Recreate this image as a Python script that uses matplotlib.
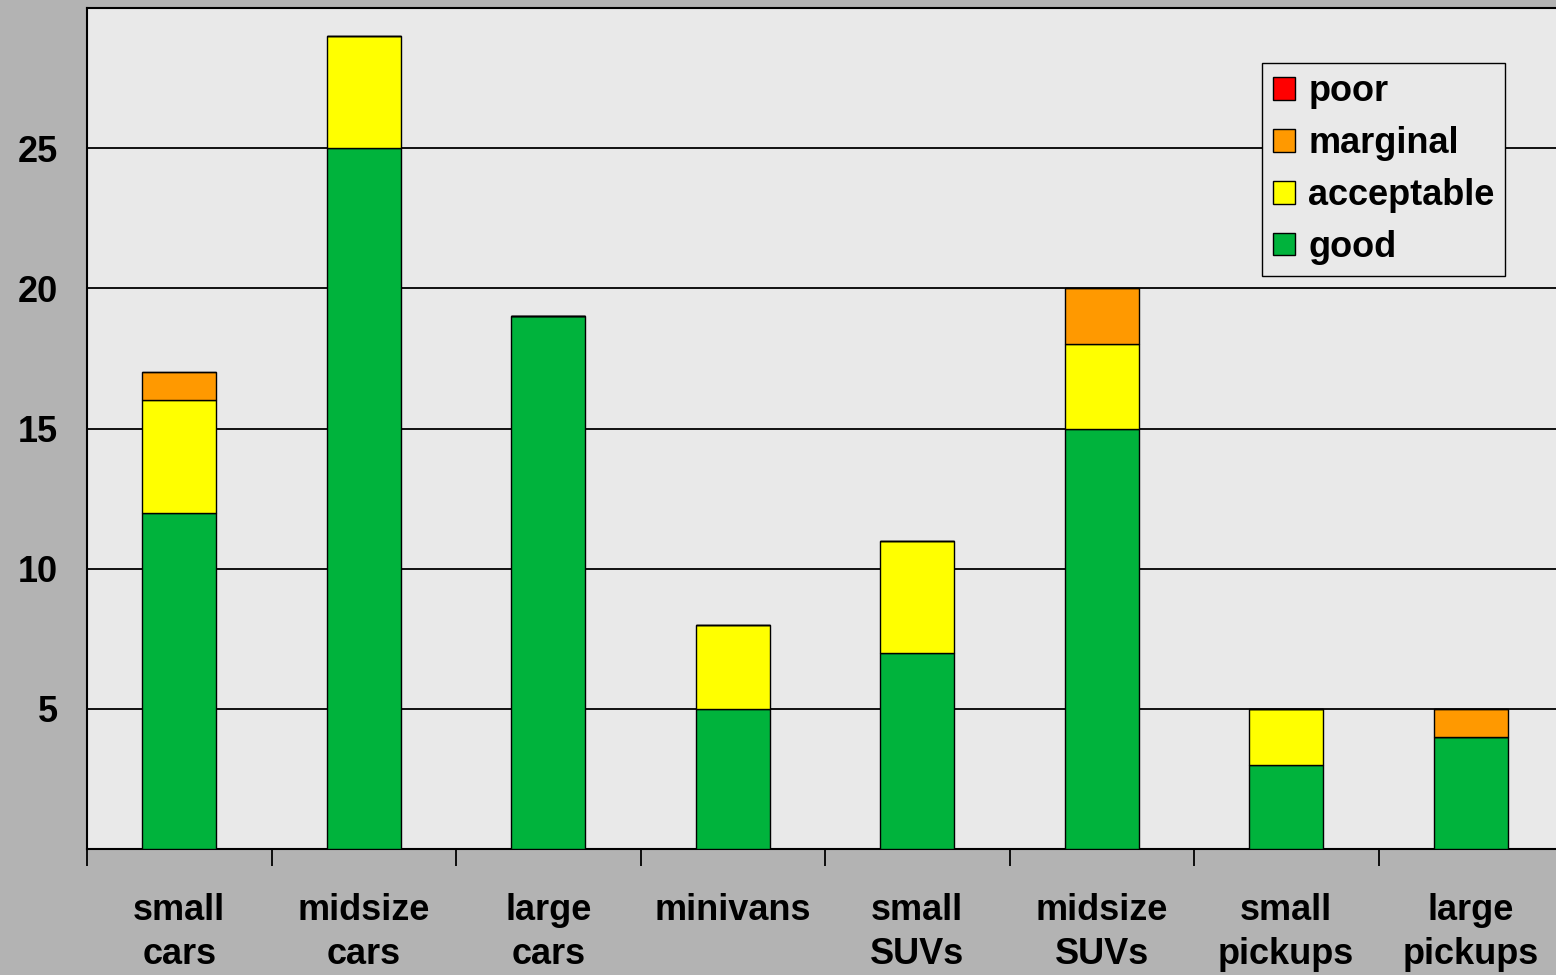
import matplotlib
matplotlib.use("Agg")
import matplotlib.pyplot as plt
import numpy as np

categories = ["small\ncars", "midsize\ncars", "large\ncars", "minivans",
              "small\nSUVs", "midsize\nSUVs", "small\npickups", "large\npickups"]
good = [12, 25, 19, 5, 7, 15, 3, 4]
acceptable = [4, 4, 0, 3, 4, 3, 2, 0]
marginal = [1, 0, 0, 0, 0, 2, 0, 1]
poor = [0, 0, 0, 0, 0, 0, 0, 0]
yticks = [5, 10, 15, 20, 25]

plt.rcParams['font.family'] = ['Liberation Sans', 'DejaVu Sans']
plt.rcParams['font.weight'] = 'bold'

fig = plt.figure(figsize=(15.56, 9.75), dpi=100, facecolor='#b3b3b3')
ax = fig.add_axes([87/1556, 126/975, 1476/1556, 841/975])
ax.set_facecolor('#e9e9e9')

x = np.arange(len(categories))
w = 0.40
series = [("good", good, '#00b33c'), ("acceptable", acceptable, '#ffff00'),
          ("marginal", marginal, '#ff9900'), ("poor", poor, '#ff0000')]
bottom = np.zeros(len(categories))
handles = {}
for name, vals, col in series:
    vals = np.array(vals, dtype=float)
    bars = ax.bar(x, vals, w, bottom=bottom, color=col, edgecolor='black',
                  linewidth=1.0, label=name, zorder=3)
    handles[name] = bars
    bottom += vals

ax.set_xlim(-0.5, 7.5)
ax.set_ylim(0, 30)
ax.set_yticks(yticks)
ax.set_yticklabels([str(v) for v in yticks], fontsize=26, fontweight='bold')
ax.tick_params(axis='y', length=0, pad=21)
ax.yaxis.grid(True, color='black', linewidth=1.3, zorder=0)
ax.set_axisbelow(True)

ax.set_xticks(np.arange(-0.5, 7.5, 1.0))
ax.set_xticklabels([])
ax.tick_params(axis='x', which='major', length=12, width=1.3, direction='out')
ax.set_xticks(x, minor=True)
ax.set_xticklabels(categories, minor=True, fontsize=26, fontweight='bold',
                   linespacing=1.3)
ax.tick_params(axis='x', which='minor', length=0, pad=32)

for s in ['left', 'bottom', 'top']:
    ax.spines[s].set_linewidth(1.5)
    ax.spines[s].set_color('black')
ax.spines['right'].set_visible(False)

order = ["poor", "marginal", "acceptable", "good"]
leg = ax.legend([handles[n] for n in order], order, loc='upper left',
                bbox_to_anchor=(1262/1556, 1 - 63/975), bbox_transform=fig.transFigure,
                prop={'weight': 'bold', 'size': 26}, frameon=True, fancybox=False,
                edgecolor='black', facecolor='#e9e9e9', framealpha=1,
                handlelength=0.6, handleheight=0.6, handletextpad=0.38,
                labelspacing=0.47, borderpad=0.3, borderaxespad=0)
leg.get_frame().set_linewidth(1.0)

fig.savefig("out.png", dpi=100, facecolor=fig.get_facecolor())
